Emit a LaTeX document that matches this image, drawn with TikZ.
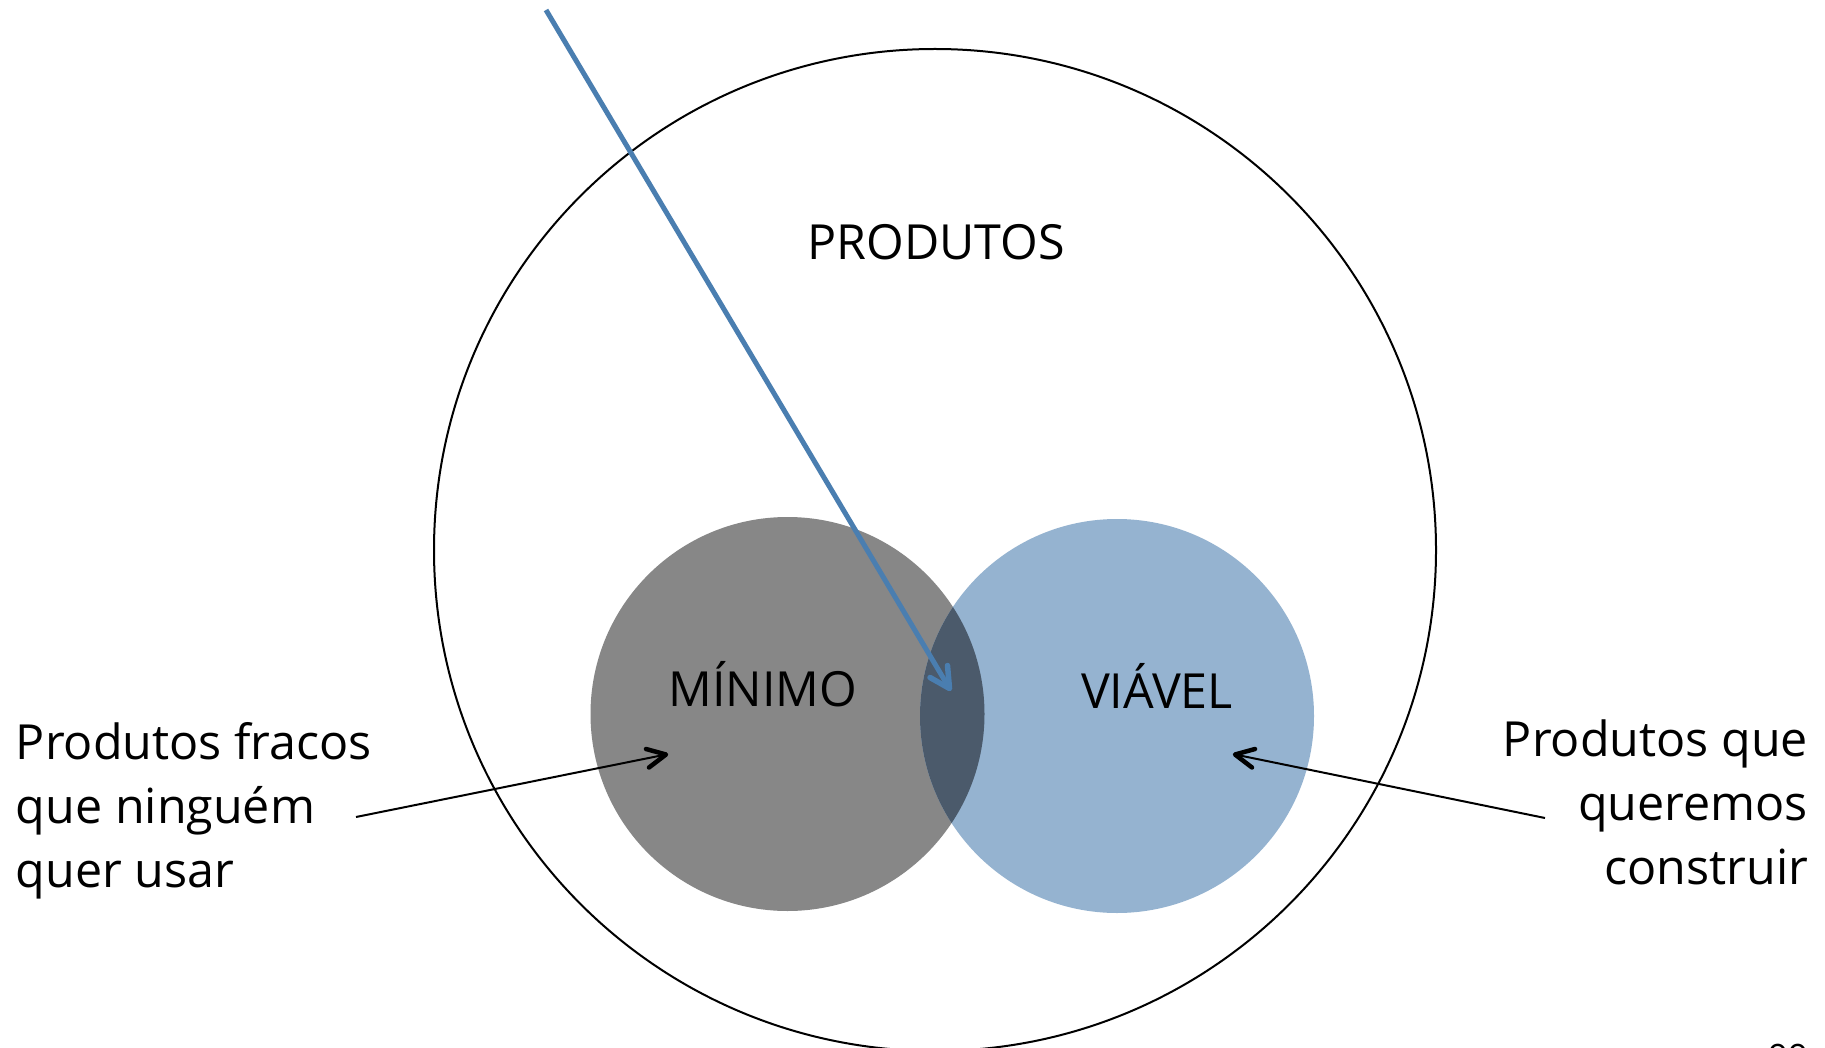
\documentclass[tikz,border=0pt]{standalone}
\usepackage{fontspec}
\setmainfont{Open Sans}
\usetikzlibrary{arrows.meta}
\definecolor{mingray}{HTML}{878787}
\definecolor{viablue}{HTML}{95B3D0}
\definecolor{overlapc}{HTML}{4B5A6B}
\definecolor{arrowblue}{HTML}{4A7EB0}
\begin{document}
\begin{tikzpicture}[x=1pt,y=-1pt,
  every node/.style={inner sep=0pt, outer sep=0pt},
  lbl/.style={font=\fontsize{48.4}{58}\selectfont},
  pagenum/.style={font=\fontsize{35}{40}\selectfont},
  setcircle/.style={circle, minimum size=394pt, draw=none},
  blackline/.style={line width=2pt},
  blackbarb/.style={line width=4.5pt, line cap=round, line join=round},
  blueline/.style={arrowblue, line width=5pt},
  bluebarb/.style={arrowblue, line width=5.5pt, line cap=round, line join=round}]
\useasboundingbox (0,0) rectangle (1825,1048);
\fill[white] (0,0) rectangle (1825,1048);
% big circle
\node[circle, minimum size=1002pt, draw=black, line width=2pt] (bigc) at (935,550) {};
% set circles
\node[setcircle, fill=mingray] (minc) at (787.5,714) {};
\node[setcircle, fill=viablue] (viac) at (1117,716) {};
\begin{scope}
  \clip (787.5,714) circle[radius=197];
  \fill[overlapc] (1117,716) circle[radius=197];
\end{scope}
% labels
\node[lbl, anchor=base] (produtos) at (936,260) {PRODUTOS};
\node[lbl, anchor=base] (minimo) at (763,706) {MÍNIMO};
\node[lbl, anchor=base] (viavel) at (1157,708) {VIÁVEL};
\node[lbl, anchor=base west] (l1) at (16,759) {Produtos fracos};
\node[lbl, anchor=base west] (l2) at (16,823) {que ninguém};
\node[lbl, anchor=base west] (l3) at (16,887) {quer usar};
\node[lbl, anchor=base east] (r1) at (1808,756) {Produtos que};
\node[lbl, anchor=base east] (r2) at (1808,820) {queremos};
\node[lbl, anchor=base east] (r3) at (1808,884) {construir};
\node[pagenum, anchor=base west] (pg) at (1768,1069) {99};
% connectors
\coordinate (lstart) at (356,817);
\coordinate (ltip) at (666,754.5);
\coordinate (la) at (646,749);
\coordinate (lb) at (649,767.5);
\coordinate (rstart) at (1545,818);
\coordinate (rtip) at (1235,754.5);
\coordinate (ra) at (1255,749);
\coordinate (rb) at (1252,767.5);
\coordinate (bstart) at (546,10);
\coordinate (btip) at (949.5,688.5);
\coordinate (ba) at (930,677.5);
\coordinate (bb) at (947.5,665.5);
\draw[blackline] (lstart) -- (ltip);
\draw[blackbarb] (la) -- (ltip) -- (lb);
\draw[blackline] (rstart) -- (rtip);
\draw[blackbarb] (ra) -- (rtip) -- (rb);
\draw[blueline] (bstart) -- (btip);
\draw[bluebarb] (ba) -- (btip) -- (bb);
\end{tikzpicture}
\end{document}
